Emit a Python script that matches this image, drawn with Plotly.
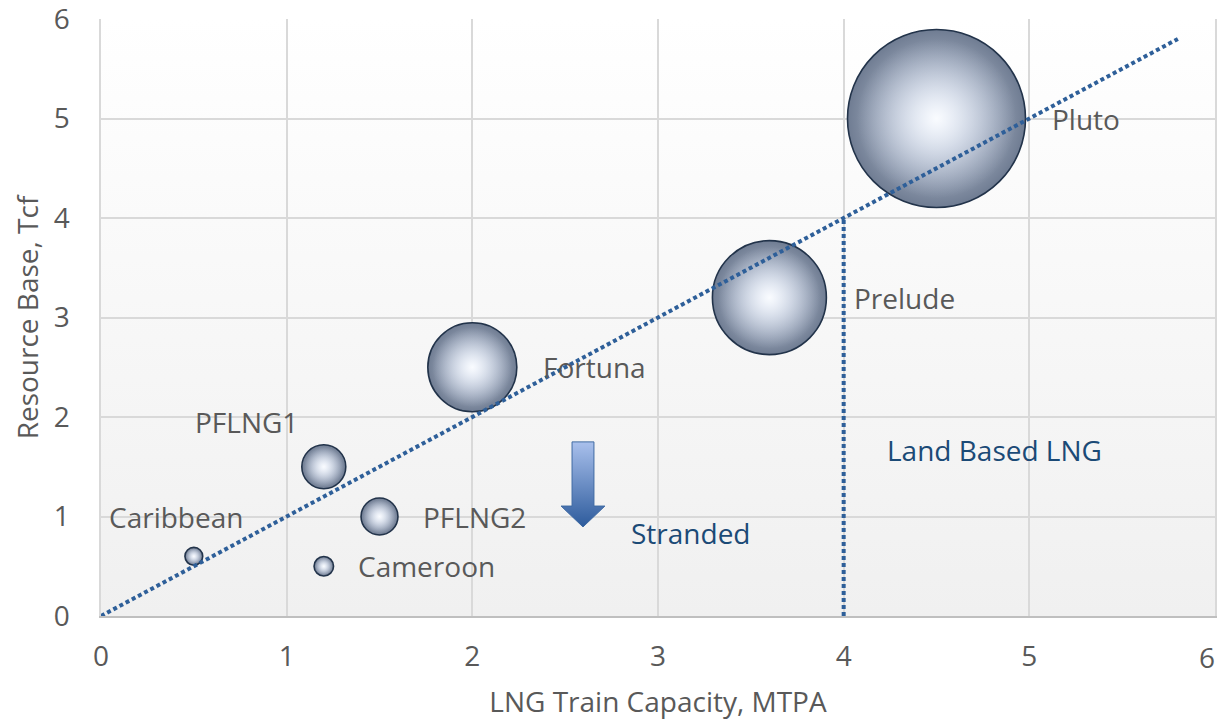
import base64
import plotly.graph_objects as go

# data
projects = ["Caribbean", "Cameroon", "PFLNG1", "PFLNG2", "Fortuna", "Prelude", "Pluto"]
capacity_mtpa = [0.5, 1.2, 1.2, 1.5, 2.0, 3.6, 4.5]
resource_tcf = [0.6, 0.5, 1.5, 1.0, 2.5, 3.2, 5.0]
bubble_size = [1.0, 1.2, 6.1, 4.3, 25, 41, 100]

trend_x = [0, 5.8]
trend_y = [0, 5.8]
land_x = [4, 4]
land_y = [0, 4]

x_ticks = [0, 1, 2, 3, 4, 5, 6]
y_ticks = [0, 1, 2, 3, 4, 5, 6]

# label placement (pixel offsets from each bubble)
label_anchor = ["center", "left", "center", "left", "left", "left", "left"]
label_dx = [-18, 32, -77, 41, 69, 83, 113]
label_dy = [39, 0, 45, 0, 0, 0, 0]

FONT = "Open Sans, sans-serif"
GREY = "#595959"
NAVY = "#1b4a76"
LINE_BLUE = "#2e5f99"

fig = go.Figure()

# background gradient behind the grid
svg = ('<svg xmlns="http://www.w3.org/2000/svg" width="100" height="100" preserveAspectRatio="none">'
       '<defs><linearGradient id="g" x1="0" y1="0" x2="0" y2="1">'
       '<stop offset="0" stop-color="#ffffff"/><stop offset="1" stop-color="#f0f0f0"/>'
       '</linearGradient></defs><rect width="100" height="100" fill="url(#g)"/></svg>')
bg_src = "data:image/svg+xml;base64," + base64.b64encode(svg.encode()).decode()

# bubbles: dark rimmed base plus a soft light core to fake the glossy sphere
max_d = 178
sref = 2 * max(bubble_size) / max_d ** 2
fig.add_trace(go.Scatter(
    x=capacity_mtpa, y=resource_tcf, mode="markers",
    marker=dict(size=bubble_size, sizemode="area", sizeref=sref,
                color="#6f7c92",
                gradient=dict(type="radial", color="#dfe6f3"),
                line=dict(color="#22334a", width=1.6), opacity=1),
    hoverinfo="text", text=projects, showlegend=False))
fig.add_trace(go.Scatter(
    x=capacity_mtpa, y=resource_tcf, mode="markers",
    marker=dict(size=[s * 0.8 for s in bubble_size], sizemode="area", sizeref=sref,
                color="rgba(205,216,236,0)",
                gradient=dict(type="radial", color="rgba(250,252,255,0.97)"),
                line=dict(width=0), opacity=1),
    hoverinfo="skip", showlegend=False))

# trend line and land-based boundary
fig.add_trace(go.Scatter(x=trend_x, y=trend_y, mode="lines",
                         line=dict(color=LINE_BLUE, width=4, dash="4px,3px"),
                         showlegend=False, hoverinfo="skip"))
fig.add_trace(go.Scatter(x=land_x, y=land_y, mode="lines",
                         line=dict(color=LINE_BLUE, width=4, dash="4px,3px"),
                         showlegend=False, hoverinfo="skip"))

# block arrow pointing down into the stranded zone
ax, a_top, a_neck, a_tip = 2.596, 1.75, 1.105, 0.895
shaft_w, head_w = 0.059, 0.118
arrow_x = [ax - shaft_w, ax + shaft_w, ax + shaft_w, ax + head_w, ax, ax - head_w, ax - shaft_w, ax - shaft_w]
arrow_y = [a_top, a_top, a_neck, a_neck, a_tip, a_neck, a_neck, a_top]
fig.add_trace(go.Scatter(x=arrow_x, y=arrow_y, mode="lines", fill="toself",
                         fillgradient=dict(type="vertical",
                                           colorscale=[[0, "#2d5b9c"], [1, "#a9c0ec"]]),
                         line=dict(color="#3f6aa3", width=1),
                         showlegend=False, hoverinfo="skip"))

annotations = []
for name, x, y, anc, dx, dy in zip(projects, capacity_mtpa, resource_tcf,
                                   label_anchor, label_dx, label_dy):
    annotations.append(dict(x=x, y=y, text=name, showarrow=False, xanchor=anc,
                            yanchor="middle", xshift=dx, yshift=dy,
                            font=dict(family=FONT, size=28, color=GREY)))
annotations.append(dict(x=3.18, y=0.83, text="Stranded", showarrow=False,
                        font=dict(family=FONT, size=28, color=NAVY)))
annotations.append(dict(x=4.81, y=1.67, text="Land Based LNG", showarrow=False,
                        font=dict(family=FONT, size=28, color=NAVY)))
# last x tick label would be clipped at the window edge, so pull it inside
annotations.append(dict(x=x_ticks[-1], y=y_ticks[0], text=str(x_ticks[-1]), showarrow=False,
                        xanchor="right", yanchor="middle", xshift=2, yshift=-41,
                        font=dict(family=FONT, size=28, color=GREY)))

x_ticktext = [str(v) for v in x_ticks[:-1]] + [""]

# page body adds an 8px offset, so the figure is 8px smaller on each axis
fig.update_layout(
    width=1217, height=714,
    margin=dict(l=93, r=10, t=11, b=106, autoexpand=False),
    paper_bgcolor="white", plot_bgcolor="#f8f8f8",
    font=dict(family=FONT, color=GREY),
    annotations=annotations,
    images=[dict(source=bg_src, xref="paper", yref="paper", x=0, y=1,
                 sizex=1, sizey=1, sizing="stretch", layer="below",
                 xanchor="left", yanchor="top")],
)
fig.update_xaxes(range=[0, 6], tickvals=x_ticks, ticktext=x_ticktext,
                 showgrid=True, gridcolor="#d9d9d9",
                 gridwidth=1.5, zeroline=False, showline=True, linecolor="#bfbfbf",
                 linewidth=2, mirror=False, ticks="", ticklabelstandoff=14,
                 ticklabeloverflow="allow", automargin=False,
                 tickfont=dict(size=28, color=GREY),
                 title=dict(text="LNG Train Capacity, MTPA", standoff=20,
                            font=dict(size=28, color=GREY)))
fig.update_yaxes(range=[0, 6], tickvals=y_ticks, showgrid=True, gridcolor="#d9d9d9",
                 gridwidth=1.5, zeroline=False, showline=True, linecolor="#d9d9d9",
                 linewidth=1.5, mirror=True, ticks="", ticklabelstandoff=24,
                 ticklabeloverflow="allow", automargin=False,
                 tickfont=dict(size=28, color=GREY),
                 title=dict(text="Resource Base, Tcf", standoff=8,
                            font=dict(size=28, color=GREY)))

fig.write_html("out.html")
